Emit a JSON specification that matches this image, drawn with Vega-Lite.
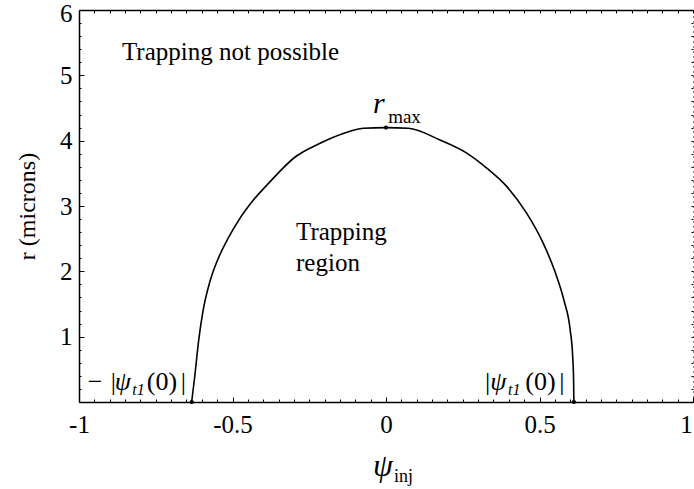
{
  "$schema": "https://vega.github.io/schema/vega-lite/v6.json",
  "autosize": {"type": "none"},
  "width": 614,
  "height": 392,
  "padding": {"left": 79, "top": 10, "right": 1, "bottom": 87},
  "background": "white",
  "config": {
    "font": "Liberation Serif",
    "view": {"stroke": null},
    "axis": {"grid": false, "domainColor": "black", "tickColor": "black", "labelColor": "black", "titleColor": "black"}
  },
  "datasets": {
    "boundary": [
      {"x": -0.633, "r": 0.0},
      {"x": -0.623, "r": 0.39},
      {"x": -0.61, "r": 0.95},
      {"x": -0.595, "r": 1.42},
      {"x": -0.575, "r": 1.82},
      {"x": -0.548, "r": 2.18},
      {"x": -0.515, "r": 2.5},
      {"x": -0.48, "r": 2.78},
      {"x": -0.432, "r": 3.09},
      {"x": -0.378, "r": 3.37},
      {"x": -0.296, "r": 3.75},
      {"x": -0.215, "r": 3.96},
      {"x": -0.139, "r": 4.11},
      {"x": -0.074, "r": 4.19},
      {"x": 0.0, "r": 4.2},
      {"x": 0.073, "r": 4.19},
      {"x": 0.176, "r": 4.01},
      {"x": 0.263, "r": 3.81},
      {"x": 0.328, "r": 3.58},
      {"x": 0.393, "r": 3.3},
      {"x": 0.458, "r": 2.89},
      {"x": 0.51, "r": 2.45},
      {"x": 0.55, "r": 2.0},
      {"x": 0.58, "r": 1.55},
      {"x": 0.6, "r": 1.1},
      {"x": 0.608, "r": 0.7},
      {"x": 0.611, "r": 0.35},
      {"x": 0.612, "r": 0.0}
    ],
    "marked": [
      {"x": -0.633, "r": 0.0},
      {"x": 0.0, "r": 4.2},
      {"x": 0.612, "r": 0.0}
    ],
    "regionText": [
      {"x": -0.86, "r": 5.23, "t": "Trapping not possible"},
      {"x": -0.293, "r": 2.48, "t": "Trapping"},
      {"x": -0.293, "r": 2.01, "t": "region"}
    ],
    "bracketText": [
      {"x": -0.948, "r": 0.18, "t": "−"},
      {"x": -0.888, "r": 0.18, "t": "|"},
      {"x": -0.73, "r": 0.18, "t": "(0)"},
      {"x": -0.66, "r": 0.18, "t": "|"},
      {"x": 0.331, "r": 0.18, "t": "|"},
      {"x": 0.503, "r": 0.18, "t": "(0)"},
      {"x": 0.573, "r": 0.18, "t": "|"}
    ],
    "psiText": [
      {"x": -0.857, "r": 0.18, "t": "ψ"},
      {"x": 0.366, "r": 0.18, "t": "ψ"}
    ],
    "psiSub": [
      {"x": -0.806, "r": 0.107, "t": "t1"},
      {"x": 0.418, "r": 0.107, "t": "t1"}
    ],
    "xTitle": [{"x": -0.01, "r": -1.133, "t": "ψ"}],
    "xTitleSub": [{"x": 0.026, "r": -1.225, "t": "inj"}],
    "rMax": [{"x": -0.042, "r": 4.42, "t": "r"}],
    "rMaxSub": [{"x": 0.007, "r": 4.27, "t": "max"}]
  },
  "resolve": {"axis": {"x": "independent", "y": "independent"}},
  "layer": [
    {
      "encoding": {
        "x": {
          "field": "x", "type": "quantitative",
          "scale": {"domain": [-1, 1], "nice": false, "zero": false},
          "axis": {
            "orient": "bottom", "title": null,
            "values": [-1, -0.95, -0.9, -0.85, -0.8, -0.75, -0.7, -0.65, -0.6, -0.55, -0.5, -0.45, -0.4, -0.35, -0.3, -0.25, -0.2, -0.15, -0.1, -0.05, 0, 0.05, 0.1, 0.15, 0.2, 0.25, 0.3, 0.35, 0.4, 0.45, 0.5, 0.55, 0.6, 0.65, 0.7, 0.75, 0.8, 0.85, 0.9, 0.95, 1],
            "labelExpr": "abs(datum.value*2 - round(datum.value*2)) < 0.001 ? toString(round(datum.value*2)/2) : ''",
            "labelOffset": {"condition": {"test": "datum.value > 0.99", "value": -7}, "value": 0},
            "tickSize": {"condition": {"test": "abs(datum.value*2 - round(datum.value*2)) < 0.001", "value": -5}, "value": -3},
            "domainWidth": 1.5, "tickWidth": 1,
            "labelFontSize": 25, "labelPadding": 15, "labelFlush": false, "labelOverlap": false
          }
        },
        "y": {
          "field": "r", "type": "quantitative",
          "scale": {"domain": [0, 6], "nice": false, "zero": false},
          "axis": {
            "orient": "left", "title": "r (microns)",
            "values": [0, 0.2, 0.4, 0.6, 0.8, 1, 1.2, 1.4, 1.6, 1.8, 2, 2.2, 2.4, 2.6, 2.8, 3, 3.2, 3.4, 3.6, 3.8, 4, 4.2, 4.4, 4.6, 4.8, 5, 5.2, 5.4, 5.6, 5.8, 6],
            "labelExpr": "datum.value >= 1 && abs(datum.value - round(datum.value)) < 0.001 ? toString(round(datum.value)) : ''",
            "labelOffset": {"condition": {"test": "datum.value > 5.9", "value": 3}, "value": 0},
            "tickSize": {"condition": {"test": "abs(datum.value - round(datum.value)) < 0.001", "value": -5}, "value": -2},
            "domainWidth": 1.5, "tickWidth": 1,
            "labelFontSize": 25, "labelPadding": 12, "labelFlush": false, "labelOverlap": false,
            "titleFontSize": 24, "titleFontWeight": "normal", "titlePadding": 20
          }
        }
      },
      "layer": [
        {
          "data": {"name": "boundary"},
          "mark": {"type": "line", "color": "black", "strokeWidth": 1.6, "interpolate": "monotone"}
        },
        {
          "data": {"name": "regionText"},
          "mark": {"type": "text", "align": "left", "baseline": "alphabetic", "fontSize": 25, "color": "black"},
          "encoding": {"text": {"field": "t"}}
        },
        {
          "data": {"name": "bracketText"},
          "mark": {"type": "text", "align": "center", "baseline": "alphabetic", "fontSize": 26, "color": "black"},
          "encoding": {"text": {"field": "t"}}
        },
        {
          "data": {"name": "psiText"},
          "mark": {"type": "text", "align": "center", "baseline": "alphabetic", "fontSize": 26, "fontStyle": "italic", "color": "black"},
          "encoding": {"text": {"field": "t"}}
        },
        {
          "data": {"name": "psiSub"},
          "mark": {"type": "text", "align": "center", "baseline": "alphabetic", "fontSize": 16, "fontStyle": "italic", "color": "black"},
          "encoding": {"text": {"field": "t"}}
        },
        {
          "data": {"name": "xTitle"},
          "mark": {"type": "text", "align": "center", "baseline": "alphabetic", "fontSize": 32, "fontStyle": "italic", "color": "black"},
          "encoding": {"text": {"field": "t"}}
        },
        {
          "data": {"name": "xTitleSub"},
          "mark": {"type": "text", "align": "left", "baseline": "alphabetic", "fontSize": 18, "color": "black"},
          "encoding": {"text": {"field": "t"}}
        },
        {
          "data": {"name": "rMax"},
          "mark": {"type": "text", "align": "left", "baseline": "alphabetic", "fontSize": 30, "fontStyle": "italic", "color": "black"},
          "encoding": {"text": {"field": "t"}}
        },
        {
          "data": {"name": "rMaxSub"},
          "mark": {"type": "text", "align": "left", "baseline": "alphabetic", "fontSize": 19, "color": "black"},
          "encoding": {"text": {"field": "t"}}
        }
      ]
    },
    {
      "data": {"name": "marked"},
      "mark": {"type": "point", "filled": true, "color": "black", "size": 18, "opacity": 1},
      "encoding": {
        "x": {
          "field": "x", "type": "quantitative",
          "scale": {"domain": [-1, 1], "nice": false, "zero": false},
          "axis": {
            "orient": "top", "title": null, "labels": false,
            "values": [-1, -0.95, -0.9, -0.85, -0.8, -0.75, -0.7, -0.65, -0.6, -0.55, -0.5, -0.45, -0.4, -0.35, -0.3, -0.25, -0.2, -0.15, -0.1, -0.05, 0, 0.05, 0.1, 0.15, 0.2, 0.25, 0.3, 0.35, 0.4, 0.45, 0.5, 0.55, 0.6, 0.65, 0.7, 0.75, 0.8, 0.85, 0.9, 0.95, 1],
            "tickSize": -3, "domainWidth": 1.5, "tickWidth": 1
          }
        },
        "y": {
          "field": "r", "type": "quantitative",
          "scale": {"domain": [0, 6], "nice": false, "zero": false},
          "axis": {
            "orient": "right", "title": null, "labels": false,
            "values": [0, 0.2, 0.4, 0.6, 0.8, 1, 1.2, 1.4, 1.6, 1.8, 2, 2.2, 2.4, 2.6, 2.8, 3, 3.2, 3.4, 3.6, 3.8, 4, 4.2, 4.4, 4.6, 4.8, 5, 5.2, 5.4, 5.6, 5.8, 6],
            "tickSize": -2, "domainWidth": 1, "domainDash": [1, 4], "tickWidth": 1
          }
        }
      }
    }
  ]
}
